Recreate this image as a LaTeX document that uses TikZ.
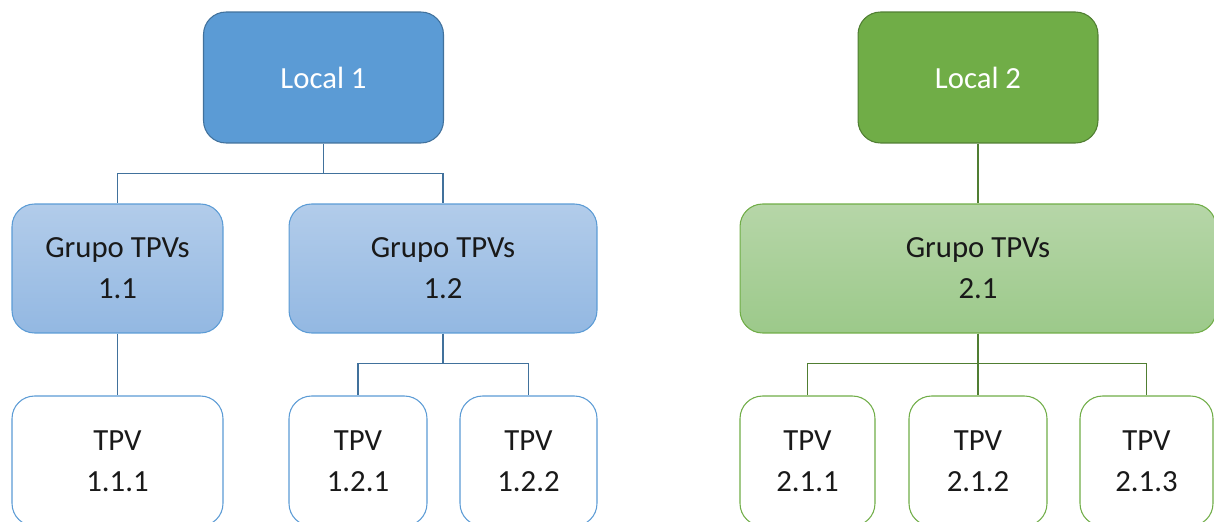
\documentclass[tikz,border=0pt]{standalone}
\usepackage{fontspec}
\setmainfont{Carlito}
\usetikzlibrary{calc}

\definecolor{azul}{HTML}{5B9BD5}
\definecolor{azulosc}{HTML}{41719C}
\definecolor{azulclaro}{HTML}{B2CCEA}
\definecolor{azulmedio}{HTML}{93B8E2}
\definecolor{verde}{HTML}{70AD47}
\definecolor{verdeosc}{HTML}{507E32}
\definecolor{verdeclaro}{HTML}{B6D6A8}
\definecolor{verdemedio}{HTML}{9CC98A}

\begin{document}
\begin{tikzpicture}[x=0.02cm,y=-0.02cm,
    caja/.style={rounded corners=0.45cm,align=center,inner sep=0pt,
        font=\fontsize{17.5}{23.2}\selectfont,line width=0.6pt},
    local/.style={caja,minimum width=4.8cm,minimum height=2.62cm,text=white},
    grupo/.style={caja,minimum height=2.58cm,text=black!90},
    tpv/.style={caja,minimum height=2.6cm,fill=white,text=black!90},
    lineaA/.style={draw=azulosc,line width=0.9pt},
    lineaV/.style={draw=verdeosc,line width=0.9pt}]
    \useasboundingbox (0,0) rectangle (1214,521);
    \clip (0,0) rectangle (1214,521);
    % local 1
    \node[local,fill=azul,draw=azulosc] (loc1) at (323.5,77.5) {Local 1};
    \node[grupo,minimum width=4.22cm,top color=azulclaro,bottom color=azulmedio,draw=azul] (g11) at (117.5,268.5) {Grupo TPVs\\1.1};
    \node[grupo,minimum width=6.16cm,top color=azulclaro,bottom color=azulmedio,draw=azul] (g12) at (443,268.5) {Grupo TPVs\\1.2};
    \node[tpv,minimum width=4.22cm,draw=azul] (t111) at (117.5,461) {TPV\\1.1.1};
    \node[tpv,minimum width=2.76cm,draw=azul] (t121) at (358,461) {TPV\\1.2.1};
    \node[tpv,minimum width=2.74cm,draw=azul] (t122) at (528.5,461) {TPV\\1.2.2};
    % local 2
    \node[local,fill=verde,draw=verdeosc] (loc2) at (978,77.5) {Local 2};
    \node[grupo,minimum width=9.52cm,top color=verdeclaro,bottom color=verdemedio,draw=verde] (g21) at (978,268.5) {Grupo TPVs\\2.1};
    \node[tpv,minimum width=2.7cm,draw=verde] (t211) at (807.5,461) {TPV\\2.1.1};
    \node[tpv,minimum width=2.76cm,draw=verde] (t212) at (978,461) {TPV\\2.1.2};
    \node[tpv,minimum width=2.66cm,draw=verde] (t213) at (1146.5,461) {TPV\\2.1.3};
    % conexiones
    \draw[lineaA] (loc1.south) -- ++(0,30) -| (g11.north);
    \draw[lineaA] (loc1.south) -- ++(0,30) -| (g12.north);
    \draw[lineaA] (g11.south) -- (t111.north);
    \draw[lineaA] (g12.south) -- ++(0,30) -| (t121.north);
    \draw[lineaA] (g12.south) -- ++(0,30) -| (t122.north);
    \draw[lineaV] (loc2.south) -- (g21.north);
    \draw[lineaV] (g21.south) -- ++(0,30) -| (t211.north);
    \draw[lineaV] (g21.south) -- (t212.north);
    \draw[lineaV] (g21.south) -- ++(0,30) -| (t213.north);
\end{tikzpicture}
\end{document}
